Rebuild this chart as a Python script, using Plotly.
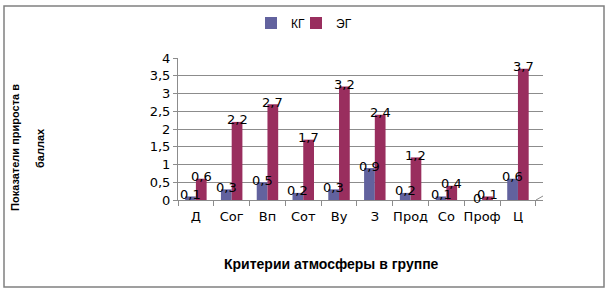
import plotly.graph_objects as go

categories = ["Д", "Сог", "Вп", "Сот", "Ву", "З", "Прод", "Со", "Проф", "Ц"]
kg_values = [0.1, 0.3, 0.5, 0.2, 0.3, 0.9, 0.2, 0.1, 0.0, 0.6]
eg_values = [0.6, 2.2, 2.7, 1.7, 3.2, 2.4, 1.2, 0.4, 0.1, 3.7]
series_names = ["КГ", "ЭГ"]
y_ticks = [0, 0.5, 1, 1.5, 2, 2.5, 3, 3.5, 4]

W, H = 610, 293
L, R, T, B = 178, 543, 58, 200


def px(x):
    return (x - L) / (R - L)


def py(y):
    return (B - y) / (B - T)


kg_color = "#62629e"
eg_color = "#992e5e"
bar_w = 0.3

fig = go.Figure()
fig.add_trace(go.Bar(x=categories, y=kg_values, name=series_names[0], legend="legend",
                     marker=dict(color=kg_color, line=dict(width=0))))
fig.add_trace(go.Bar(x=categories, y=eg_values, name=series_names[1], legend="legend2",
                     marker=dict(color=eg_color, line=dict(width=0))))


def fmt(v):
    return f"{v:g}".replace(".", ",")


annotations = []
for i, (a, b) in enumerate(zip(kg_values, eg_values)):
    annotations.append(dict(x=i - bar_w / 2, y=a, xref="x", yref="y", text=fmt(a),
                            showarrow=False, yanchor="middle", yshift=2,
                            font=dict(family="DejaVu Sans", size=13, color="black")))
    annotations.append(dict(x=i + bar_w / 2, y=b, xref="x", yref="y", text=fmt(b),
                            showarrow=False, yanchor="middle", yshift=2,
                            font=dict(family="DejaVu Sans", size=13, color="black")))

annotations.append(dict(x=px(15), y=py(148), xref="paper", yref="paper",
                        text="<b>Показатели прироста в</b>", textangle=-90, showarrow=False,
                        xanchor="center", yanchor="middle",
                        font=dict(family="Liberation Sans", size=11, color="black")))
annotations.append(dict(x=px(40), y=py(148), xref="paper", yref="paper",
                        text="<b>баллах</b>", textangle=-90, showarrow=False,
                        xanchor="center", yanchor="middle",
                        font=dict(family="Liberation Sans", size=11, color="black")))
annotations.append(dict(x=px(331), y=py(264), xref="paper", yref="paper",
                        text="<b>Критерии атмосферы в группе</b>", showarrow=False,
                        xanchor="center", yanchor="middle",
                        font=dict(family="Liberation Sans", size=14, color="black")))

shapes = [
    dict(type="rect", xref="paper", yref="paper", x0=px(4), x1=px(604), y0=py(287), y1=py(6),
         line=dict(color="#808080", width=1.5), fillcolor="rgba(0,0,0,0)", layer="below"),
    dict(type="line", xref="paper", yref="paper", x0=px(536), y0=0, x1=1, y1=py(196),
         line=dict(color="#8c8c8c", width=1)),
]

legend_common = dict(orientation="h", xanchor="left", yanchor="middle",
                     font=dict(family="Liberation Sans", size=12, color="black"),
                     itemwidth=30, bgcolor="rgba(0,0,0,0)")

fig.update_layout(
    width=W, height=H,
    margin=dict(l=L, r=W - R, t=T, b=H - B, pad=0, autoexpand=False),
    paper_bgcolor="white", plot_bgcolor="white",
    separators=", ",
    barmode="group", bargap=0.4, bargroupgap=0,
    showlegend=True,
    legend=dict(x=px(251), y=py(23), **legend_common),
    legend2=dict(x=px(296), y=py(23), **legend_common),
    annotations=annotations,
    shapes=shapes,
    xaxis=dict(type="category", range=[-0.5, 9.7], showgrid=False, tickangle=0,
               showline=True, linecolor="#8c8c8c", linewidth=1,
               ticks="outside", tickson="boundaries", ticklen=5, tickcolor="#8c8c8c",
               ticklabelstandoff=4,
               tickfont=dict(family="DejaVu Sans", size=13, color="black")),
    yaxis=dict(range=[0, 4], tickvals=y_ticks, showgrid=True, gridcolor="#8c8c8c",
               gridwidth=1, showline=True, linecolor="#8c8c8c", linewidth=1,
               ticks="outside", ticklen=4, tickcolor="#8c8c8c", zeroline=False,
               tickfont=dict(family="DejaVu Sans", size=13, color="black")),
)

fig.write_html("out.html", config={"displayModeBar": False},
               post_script="document.body.style.margin='0';")
